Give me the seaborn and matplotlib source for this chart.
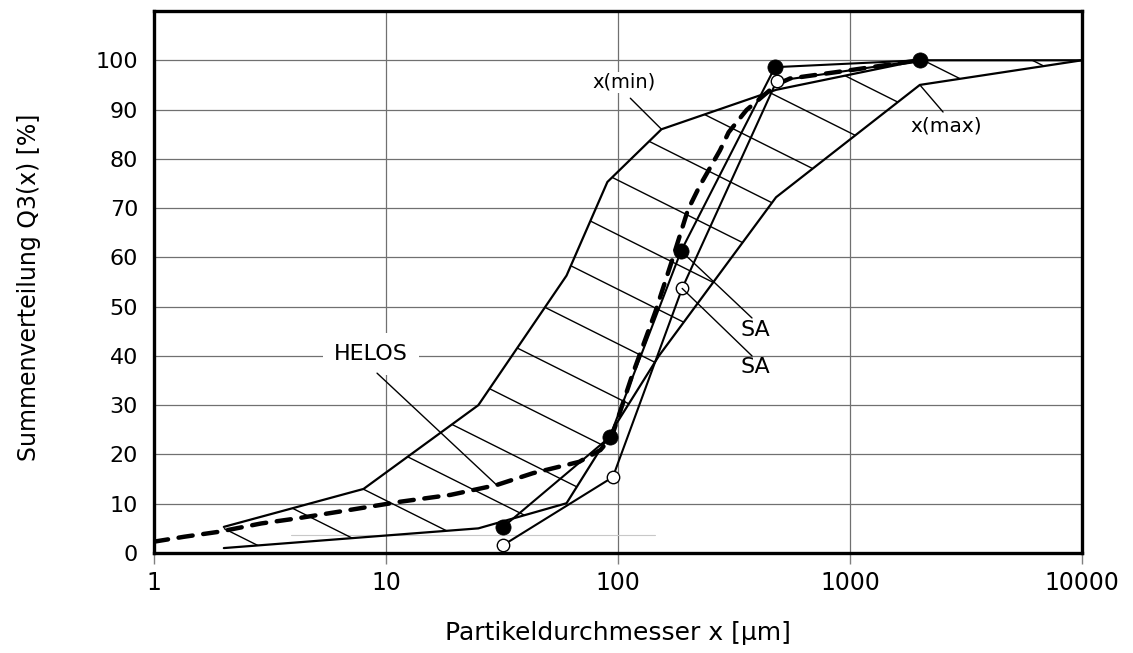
import numpy as np
import pandas as pd
import matplotlib
matplotlib.use("Agg")
import matplotlib.pyplot as plt
import seaborn as sns
from matplotlib.patches import Polygon
from matplotlib.lines import Line2D
from matplotlib.ticker import NullLocator

# ---------------- data ----------------
xmin_x = [2, 8, 25, 60, 90, 154, 480, 2000, 10000]
xmin_y = [5.3, 13.0, 30.0, 56.3, 75.3, 86.0, 94.0, 100.0, 100.0]

xmax_x = [2, 25, 60, 150, 480, 2000, 10000]
xmax_y = [1.0, 5.0, 10.1, 40.0, 72.2, 95.0, 100.0]

helos_x = [1, 1.35, 1.9, 2.9, 4.1, 6.3, 11.5, 19, 30, 43, 68, 84, 94,
           115, 145, 170, 200, 225, 275, 300, 358, 480, 551, 906, 2000]
helos_y = [2.3, 3.3, 4.3, 6.0, 7.0, 8.4, 10.4, 11.8, 13.8, 16.2, 18.5, 20.9, 23.6,
           36.0, 49.0, 59.0, 69.6, 74.5, 81.7, 85.4, 89.9, 95.0, 96.3, 97.7, 100.0]

sa_fill_x = [32, 92, 187, 475, 2000]
sa_fill_y = [5.3, 23.5, 61.3, 98.6, 100.0]

sa_open_x = [32, 95, 189, 483, 2000]
sa_open_y = [1.6, 15.4, 53.7, 95.8, 100.0]

faint_x = [3.9, 145]
faint_y = [3.65, 3.65]

x_ticks = [1, 10, 100, 1000, 10000]
x_ticklabels = ["1", "10", "100", "1000", "10000"]
y_ticks = list(range(0, 101, 10))

# ---------------- style ----------------
sns.set_theme(style="white")
plt.rcParams["font.family"] = ["DejaVu Sans"]
plt.rcParams["text.color"] = "black"
plt.rcParams["axes.labelcolor"] = "black"
plt.rcParams["xtick.color"] = "black"
plt.rcParams["ytick.color"] = "black"

fig = plt.figure(figsize=(11.33, 6.53), dpi=100)
ax = fig.add_axes([154 / 1133, 100 / 653, 928 / 1133, 542 / 653])
ax.set_xscale("log")
ax.set_xlim(1, 10000)
ax.set_ylim(0, 110)

# grid
for xv in x_ticks[1:-1]:
    ax.axvline(xv, color="#707070", lw=0.9, zorder=0)
for yv in y_ticks[1:]:
    ax.axhline(yv, color="#707070", lw=0.9, zorder=0)

ax.plot(faint_x, faint_y, color="#c8c8c8", lw=0.8, zorder=0.5)

# hatched band between x(min) and x(max)
band = np.column_stack([np.r_[xmin_x, xmax_x[::-1]], np.r_[xmin_y, xmax_y[::-1]]])
poly = Polygon(band, closed=True, facecolor="none", edgecolor="none", transform=ax.transData)
ax.add_patch(poly)
slope = 0.5 * 928 / 542
for k in range(-6, 24):
    a = 0.3109 + 0.1006 * k
    ln = Line2D([-0.2, 1.2], [a + slope * 0.2, a - slope * 1.2], transform=ax.transAxes,
                color="black", lw=1.0, zorder=1)
    ax.add_line(ln)
    ln.set_clip_path(poly)

# envelope curves
df_min = pd.DataFrame({"x": xmin_x, "y": xmin_y})
df_max = pd.DataFrame({"x": xmax_x, "y": xmax_y})
sns.lineplot(data=df_min, x="x", y="y", ax=ax, color="black", lw=1.6, sort=False,
             estimator=None, zorder=3)
sns.lineplot(data=df_max, x="x", y="y", ax=ax, color="black", lw=1.6, sort=False,
             estimator=None, zorder=3)

# SA curves
df_saf = pd.DataFrame({"x": sa_fill_x, "y": sa_fill_y})
df_sao = pd.DataFrame({"x": sa_open_x, "y": sa_open_y})
sns.lineplot(data=df_sao, x="x", y="y", ax=ax, color="black", lw=1.5, sort=False,
             estimator=None, zorder=3)
sns.lineplot(data=df_saf, x="x", y="y", ax=ax, color="black", lw=1.5, sort=False,
             estimator=None, zorder=3)

# HELOS dashed
df_h = pd.DataFrame({"x": helos_x, "y": helos_y})
sns.lineplot(data=df_h, x="x", y="y", ax=ax, color="black", lw=3.2, sort=False,
             estimator=None, linestyle=(0, (3.2, 2.4)), dash_capstyle="round", zorder=4)

# markers
sns.scatterplot(data=df_sao.iloc[:-1], x="x", y="y", ax=ax, s=80, facecolor="white",
                edgecolor="black", linewidth=1.0, zorder=5)
sns.scatterplot(data=df_saf, x="x", y="y", ax=ax, s=120, color="black",
                edgecolor="black", linewidth=0.5, zorder=6)

# ---------------- annotations ----------------
lead = dict(arrowstyle="-", lw=1.0, color="black", shrinkA=0, shrinkB=0)
ax.text(106, 95.5, "x(min)", fontsize=14, ha="center", va="center", zorder=7,
        color="black", bbox=dict(facecolor="white", edgecolor="none", pad=1))
ax.annotate("", xy=(xmin_x[5], xmin_y[5]), xytext=(113, 92.3), arrowprops=lead, zorder=7)

ax.text(2594, 86.6, "x(max)", fontsize=14.5, ha="center", va="center", zorder=7,
        color="black")
ax.annotate("", xy=(xmax_x[5], xmax_y[5]), xytext=(2518, 89.5), arrowprops=lead, zorder=7)

ax.text(8.62, 40.4, "HELOS", fontsize=16, ha="center", va="center", zorder=7,
        color="black", bbox=dict(facecolor="white", edgecolor="none", pad=8))
ax.annotate("", xy=(helos_x[8], helos_y[8]), xytext=(9.15, 36.5), arrowprops=lead, zorder=7)

ax.text(390, 45.2, "SA", fontsize=16, ha="center", va="center", zorder=7, color="black")
ax.annotate("", xy=(sa_fill_x[2], sa_fill_y[2]), xytext=(378, 47.7), arrowprops=lead, zorder=7)
ax.text(390, 37.7, "SA", fontsize=16, ha="center", va="center", zorder=7, color="black")
ax.annotate("", xy=(sa_open_x[2], sa_open_y[2]), xytext=(378, 40.0), arrowprops=lead, zorder=7)

# ---------------- axes ----------------
ax.set_xticks(x_ticks)
ax.set_xticklabels(x_ticklabels)
ax.xaxis.set_minor_locator(NullLocator())
ax.set_yticks(y_ticks)
ax.set_yticklabels([str(v) for v in y_ticks])
ax.tick_params(axis="x", length=8, width=1, color="#808080", labelcolor="black", pad=5,
               labelsize=17, bottom=True, direction="out")
ax.tick_params(axis="y", length=0, pad=11.5, labelsize=16, left=True, labelcolor="black")
ax.grid(False)
for s in ax.spines.values():
    s.set_visible(True)
    s.set_color("black")
    s.set_linewidth(2.4)
    s.set_zorder(8)

ax.set_xlabel("Partikeldurchmesser x [µm]", fontsize=18, color="black")
ax.set_ylabel("Summenverteilung Q3(x) [%]", fontsize=17, color="black")
ax.xaxis.set_label_coords(0.5, -0.125)
ax.yaxis.set_label_coords(-0.122, 0.49)

fig.savefig("out.png", dpi=100)
